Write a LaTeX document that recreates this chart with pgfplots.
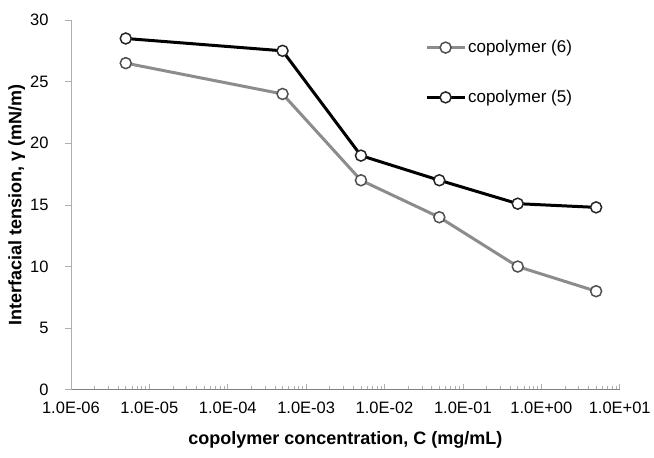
\documentclass[border=0pt]{standalone}
\usepackage{fontspec}
\setmainfont{Liberation Sans}
\usepackage{pgfplots}
\pgfplotsset{compat=1.18}
\definecolor{gline}{RGB}{140,140,140}
\definecolor{gmark}{RGB}{80,80,80}
\definecolor{axgray}{RGB}{175,175,175}
\begin{document}
\begin{tikzpicture}
\begin{axis}[
    scale only axis,
    width=549pt, height=370pt,
    xmode=log, log basis x=10,
    xmin=1e-6, xmax=10,
    ymin=0, ymax=30,
    xtick={1e-6,1e-5,1e-4,1e-3,1e-2,1e-1,1,10},
    xticklabels={1.0E-06,1.0E-05,1.0E-04,1.0E-03,1.0E-02,1.0E-01,1.0E+00,1.0E+01},
    minor xtick={2e-6,3e-6,4e-6,5e-6,6e-6,7e-6,8e-6,9e-6,
                 2e-5,3e-5,4e-5,5e-5,6e-5,7e-5,8e-5,9e-5,
                 2e-4,3e-4,4e-4,5e-4,6e-4,7e-4,8e-4,9e-4,
                 2e-3,3e-3,4e-3,5e-3,6e-3,7e-3,8e-3,9e-3,
                 2e-2,3e-2,4e-2,5e-2,6e-2,7e-2,8e-2,9e-2,
                 2e-1,3e-1,4e-1,5e-1,6e-1,7e-1,8e-1,9e-1,
                 2,3,4,5,6,7,8,9},
    ytick={0,5,10,15,20,25,30},
    axis x line*=bottom, axis y line*=left,
    x axis line style={-, color=gray, line width=0.8pt},
    y axis line style={-, color=axgray, line width=0.8pt},
    xtick align=inside, ytick align=outside,
    major tick length=6pt, minor tick length=4pt,
    tick style={color=axgray, line width=0.8pt},
    tick label style={font=\fontsize{16.5}{18}\selectfont},
    /pgf/number format/assume math mode=true,
    xticklabel style={yshift=-9pt},
    yticklabel style={xshift=-13pt},
    xlabel={\bfseries copolymer concentration, C (mg/mL)},
    ylabel={\bfseries Interfacial tension, γ (mN/m)},
    label style={font=\fontsize{18}{20}\selectfont},
    xlabel style={yshift=-11pt},
    ylabel style={yshift=-2pt},
    legend style={at={(0.645,0.95)}, anchor=north west, draw=none, fill=none,
        inner sep=0pt,
        font=\fontsize{17}{19}\selectfont, row sep=32pt,
        /tikz/every even column/.append style={column sep=3pt}},
    legend cell align=left,
    legend image code/.code={
        \draw[mark repeat=2, mark phase=2] plot coordinates {(0pt,0pt) (19pt,0pt) (38pt,0pt)};
    },
]
\addplot[gline, line width=3pt, mark=*, mark size=5.5pt,
    mark options={fill=white, draw=gmark, line width=1.5pt}]
    coordinates {(5e-6,26.5)(5e-4,24.0)(5e-3,17.0)(5e-2,14.0)(5e-1,10.0)(5e0,8.0)};
\addlegendentry{copolymer (6)}
\addplot[black, line width=3pt, mark=*, mark size=5.5pt,
    mark options={fill=white, draw=black!85, line width=1.5pt}]
    coordinates {(5e-6,28.5)(5e-4,27.5)(5e-3,19.0)(5e-2,17.0)(5e-1,15.1)(5e0,14.8)};
\addlegendentry{copolymer (5)}
\end{axis}
% page margins as in the reference
\path ([xshift=-71pt,yshift=20pt]current axis.north west);
\path ([xshift=34pt,yshift=-68pt]current axis.south east);
\end{tikzpicture}
\end{document}
